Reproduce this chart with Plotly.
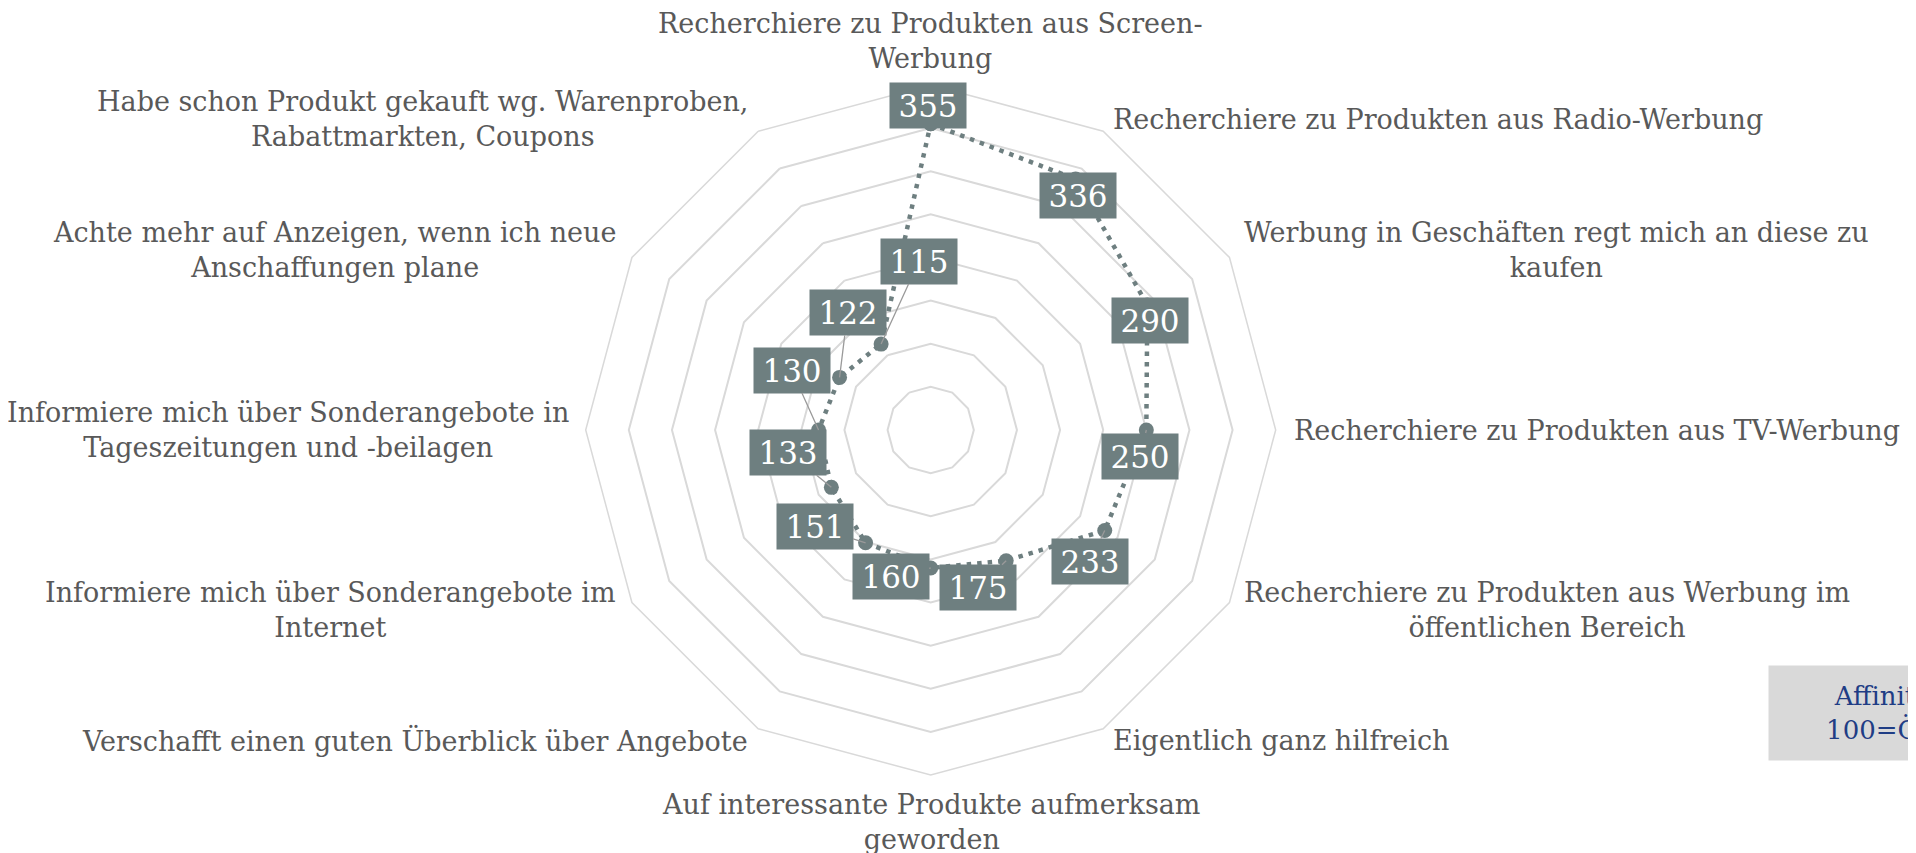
import math
import plotly.graph_objects as go

# ---------------- data ----------------
categories = [
    "Recherchiere zu Produkten aus Screen-<br>Werbung",
    "Recherchiere zu Produkten aus Radio-Werbung",
    "Werbung in Geschäften regt mich an diese zu<br>kaufen",
    "Recherchiere zu Produkten aus TV-Werbung",
    "Recherchiere zu Produkten aus Werbung im<br>öffentlichen Bereich",
    "Eigentlich ganz hilfreich",
    "Auf interessante Produkte aufmerksam<br>geworden",
    "Verschafft einen guten Überblick über Angebote",
    "Informiere mich über Sonderangebote im<br>Internet",
    "Informiere mich über Sonderangebote in<br>Tageszeitungen und -beilagen",
    "Achte mehr auf Anzeigen, wenn ich neue<br>Anschaffungen plane",
    "Habe schon Produkt gekauft wg. Warenproben,<br>Rabattmarkten, Coupons",
]
values = [355, 336, 290, 250, 233, 175, 160, 151, 133, 130, 122, 115]
legend_text = "Affinität<br>100=Ö-Ø"

# ---------------- layout / style ----------------
W, H = 1916, 853
OFF = 8                                    # page body margin
CX, CY, R = 930.7 - OFF, 430.0 - OFF, 345.0  # polar centre / radius in px
RMAX = 400
xdom = [(CX - R) / W, (CX + R) / W]
ydom = [(H - CY - R) / H, (H - CY + R) / H]

LINE_COLOR = "#6E7F80"
GRID_COLOR = "#D9D9D9"
TEXT_COLOR = "#595959"
FONT = "DejaVu Serif"

# pixel offsets of value boxes relative to their point (dx, dy; dy down)
label_offsets = [(-3, -18), (2, 16), (3, 16), (-6, 26), (-15, 31), (-28, 27),
                 (-40, 8), (-51, -16), (-43, -35), (-27, -60), (8, -65), (38, -83)]
# category label anchoring: (xanchor, yanchor, xshift, yshift)
cat_anchor = [("center", "bottom", 0, 9), ("left", "middle", 8, 12),
              ("left", "middle", 13, 7), ("left", "middle", 16, 0),
              ("left", "middle", 13, -7), ("left", "middle", 8, -12),
              ("center", "top", 0, -12), ("right", "middle", -8, -12),
              ("right", "middle", -14, -7), ("right", "middle", -15, 0),
              ("right", "middle", -14, 7), ("right", "middle", -8, 12)]

n = len(categories)
angles = [math.radians(90 - 360 * i / n) for i in range(n)]

fig = go.Figure()
fig.add_trace(go.Scatterpolar(
    r=values + values[:1], theta=categories + categories[:1],
    mode="lines+markers",
    line=dict(color=LINE_COLOR, width=4.5, dash="4.5px,6px"),
    marker=dict(color=LINE_COLOR, size=15),
    showlegend=False, hoverinfo="skip",
))
# invisible cartesian helper trace so that x/y axes exist for annotations
fig.add_trace(go.Scatter(x=[0], y=[0], mode="markers", marker=dict(opacity=0),
                         showlegend=False, hoverinfo="skip"))

annotations = []
for i, cat in enumerate(categories):
    a = angles[i]
    xa, ya, xs, ys = cat_anchor[i]
    annotations.append(dict(
        x=RMAX * math.cos(a), y=RMAX * math.sin(a), xref="x", yref="y",
        text=cat, showarrow=False, xanchor=xa, yanchor=ya, xshift=xs, yshift=ys,
        align="center", font=dict(family=FONT, size=27, color=TEXT_COLOR),
    ))
for i, v in enumerate(values):
    a = angles[i]
    dx, dy = label_offsets[i]
    annotations.append(dict(
        x=v * math.cos(a), y=v * math.sin(a), xref="x", yref="y",
        text=str(v), showarrow=True, arrowhead=0, arrowwidth=1.3,
        arrowcolor="#9A9A9A", ax=dx, ay=dy,
        bgcolor=LINE_COLOR, width=76, height=45, borderpad=0,
        font=dict(family=FONT, size=31, color="white"),
    ))
annotations.append(dict(
    x=(1768 - OFF) / W, y=(H - (713 - OFF)) / H, xref="paper", yref="paper",
    xanchor="left", yanchor="middle", text=legend_text, showarrow=False,
    bgcolor="#D9D9D9", width=236, height=92, align="center",
    font=dict(family=FONT, size=26, color="#1F3D85"),
))

fig.update_layout(
    width=W, height=H, margin=dict(l=0, r=0, t=0, b=0),
    paper_bgcolor="white", plot_bgcolor="rgba(0,0,0,0)",
    polar=dict(
        domain=dict(x=xdom, y=ydom), bgcolor="rgba(0,0,0,0)",
        gridshape="linear",
        radialaxis=dict(range=[0, RMAX], dtick=50, showticklabels=False, ticks="",
                        showline=False, gridcolor=GRID_COLOR, gridwidth=1.5),
        angularaxis=dict(direction="clockwise", rotation=90, showticklabels=False,
                         ticks="", showgrid=False, showline=True,
                         linecolor=GRID_COLOR, linewidth=1.5),
    ),
    xaxis=dict(domain=xdom, range=[-RMAX, RMAX], visible=False, fixedrange=True),
    yaxis=dict(domain=ydom, range=[-RMAX, RMAX], visible=False, fixedrange=True),
    annotations=annotations,
)

fig.write_html("out.html")
